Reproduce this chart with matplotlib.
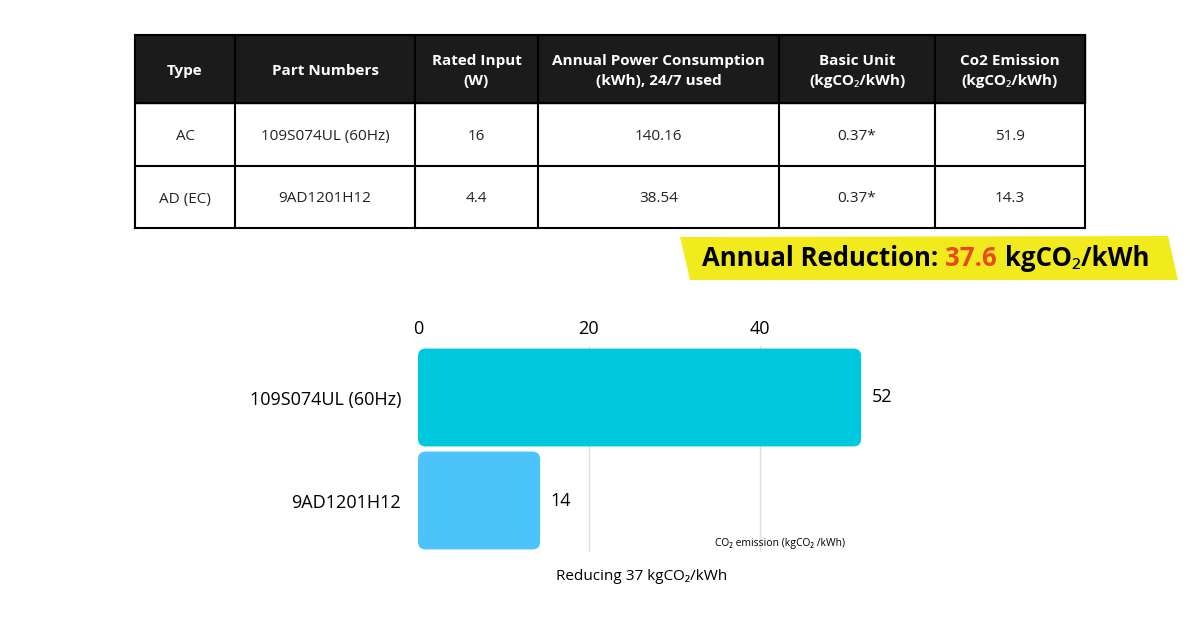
import matplotlib
matplotlib.use("Agg")
import matplotlib.pyplot as plt
from matplotlib.patches import FancyBboxPatch, Polygon, Rectangle

headers = ["Type", "Part Numbers", "Rated Input\n(W)", "Annual Power Consumption\n(kWh), 24/7 used",
           "Basic Unit\n(kgCO\u2082/kWh)", "Co2 Emission\n(kgCO\u2082/kWh)"]
rows = [["AC", "109S074UL (60Hz)", "16", "140.16", "0.37*", "51.9"],
        ["AD (EC)", "9AD1201H12", "4.4", "38.54", "0.37*", "14.3"]]
parts = ["109S074UL (60Hz)", "9AD1201H12"]
emission = [51.9, 14.3]
labels = ["52", "14"]
colors = ["#00c8dc", "#4cc3fb"]
ticks = [0, 20, 40]

W, H = 1200, 627
fig = plt.figure(figsize=(12, 6.27), dpi=100)
FONT = ["Open Sans", "Noto Sans", "DejaVu Sans"]

tab = fig.add_axes([0, 0, 1, 1])
tab.set_xlim(0, W); tab.set_ylim(H, 0); tab.axis("off")
xs = [135, 235, 415, 538, 779, 935, 1085]
ys = [35, 103, 166, 228]
tab.add_patch(Rectangle((xs[0], ys[0]), xs[-1]-xs[0], ys[1]-ys[0], color="#1b1b1b"))
for x in xs:
    tab.plot([x, x], [ys[0], ys[-1]], color="black", lw=1.5)
for y in ys:
    tab.plot([xs[0], xs[-1]], [y, y], color="black", lw=1.5)
for i, h in enumerate(headers):
    tab.text((xs[i]+xs[i+1])/2, (ys[0]+ys[1])/2 + 2, h, ha="center", va="center", color="white",
             fontsize=11, fontweight="bold", family=FONT, linespacing=1.5)
for r, row in enumerate(rows):
    for i, v in enumerate(row):
        tab.text((xs[i]+xs[i+1])/2, (ys[r+1]+ys[r+2])/2 + 2, v, ha="center", va="center",
                 fontsize=11, family=FONT, color="#222")

tab.add_patch(Polygon([[680, 237], [1168, 236], [1178, 280], [690, 280]], closed=True,
                      color="#f1ea1c", lw=0))
t1 = tab.text(702, 258, "Annual Reduction: ", ha="left", va="center", fontsize=18.5,
              fontweight="bold", family=FONT, color="black")
fig.canvas.draw()
bb = t1.get_window_extent().transformed(tab.transData.inverted())
t2 = tab.text(bb.x1, 258, "37.6", ha="left", va="center", fontsize=18.5, fontweight="bold",
              family=FONT, color="#e8491e")
bb2 = t2.get_window_extent().transformed(tab.transData.inverted())
tab.text(bb2.x1 + 8, 258, "kgCO\u2082/kWh", ha="left", va="center", fontsize=18.5,
         fontweight="bold", family=FONT, color="black")

ax = fig.add_axes([418/W, (H-552)/H, 444/W, 206/H])
ax.set_xlim(0, 52)
ax.set_ylim(1.5, -0.5)
ax.set_xticks(ticks)
ax.xaxis.tick_top()
ax.tick_params(axis="x", length=0, labelsize=13, pad=6)
for t in ax.get_xticklabels():
    t.set_family(FONT)
ax.set_yticks(range(len(parts)))
ax.set_yticklabels(parts, fontsize=13, family=FONT)
ax.tick_params(axis="y", length=0, pad=12)
for s in ax.spines.values():
    s.set_visible(False)
for t in ticks[1:]:
    ax.axvline(t, color="#e0e0e0", lw=1, zorder=0)
h = 0.95
for i, v in enumerate(emission):
    ax.add_patch(FancyBboxPatch((0, i - h/2), v, h, boxstyle="round,pad=0,rounding_size=0.9",
                                mutation_aspect=0.083, color=colors[i], lw=0, zorder=2))
    ax.text(v + 1.2, i, labels[i], va="center", ha="left", fontsize=13, family=FONT)
ax.text(0.67, 0.04, "CO\u2082 emission (kgCO\u2082 /kWh)", transform=ax.transAxes,
        fontsize=7.5, family=FONT, ha="left", va="center")
fig.text(642/W, 1-577/H, "Reducing 37 kgCO\u2082/kWh", ha="center", va="center",
         fontsize=11, family=FONT)

fig.savefig("out.png", dpi=100, facecolor="white")
